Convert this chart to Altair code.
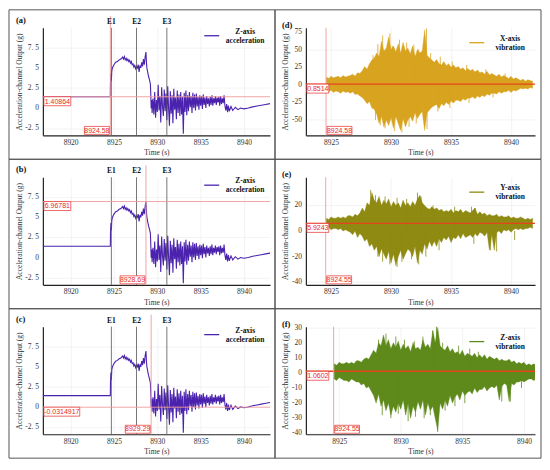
import altair as alt
import pandas as pd

# ---------------- data ----------------
# Z-axis acceleration (panels a, b, c)
z_time = [8916.8, 8924.58, 8924.6, 8924.65, 8924.7, 8924.75, 8924.8, 8924.9, 8925.0, 8925.2,
          8925.4, 8925.6, 8925.8, 8926.0, 8926.1, 8926.2, 8926.3, 8926.4, 8926.5, 8926.6,
          8926.7, 8926.8, 8926.9, 8927.0, 8927.1, 8927.2, 8927.3, 8927.4, 8927.5, 8927.6,
          8927.7, 8927.8, 8927.9, 8928.0, 8928.1, 8928.2, 8928.3, 8928.4, 8928.5, 8928.6,
          8928.69, 8928.75, 8928.8, 8928.9, 8929.0, 8929.1, 8929.2, 8929.25, 8929.29, 8929.35,
          8929.4, 8929.5, 8929.6, 8929.7, 8929.8, 8929.9, 8930.0, 8930.1, 8930.2, 8930.3,
          8930.4, 8930.5, 8930.6, 8930.7, 8930.8, 8930.9, 8931.0, 8931.1, 8931.2, 8931.3,
          8931.4, 8931.5, 8931.6, 8931.7, 8931.8, 8931.9, 8932.0, 8932.1, 8932.2, 8932.3,
          8932.4, 8932.5, 8932.6, 8932.7, 8932.8, 8932.9, 8933.0, 8933.1, 8933.2, 8933.3,
          8933.4, 8933.5, 8933.6, 8933.7, 8933.8, 8933.9, 8934.0, 8934.1, 8934.2, 8934.3,
          8934.4, 8934.5, 8934.6, 8934.7, 8934.8, 8934.9, 8935.0, 8935.1, 8935.2, 8935.3,
          8935.4, 8935.5, 8935.6, 8935.7, 8935.8, 8935.9, 8936.0, 8936.1, 8936.2, 8936.3,
          8936.4, 8936.5, 8936.6, 8936.7, 8936.8, 8936.9, 8937.0, 8937.1, 8937.2, 8937.3,
          8937.4, 8937.5, 8937.6, 8937.7, 8937.8, 8937.9, 8938.0, 8938.1, 8938.2, 8938.3,
          8938.5, 8938.7, 8939.0, 8939.3, 8939.6, 8940.0, 8940.5, 8941.0, 8941.5, 8942.0,
          8942.5, 8943.0]
z_value = [1.41, 1.41, 3.1, 4.3, 3.4, 4.6, 4.9, 5.2, 5.4, 5.7,
           5.8, 6.0, 6.1, 6.35, 6.1, 6.4, 6.0, 6.2, 5.9, 6.1,
           5.8, 5.95, 5.6, 5.8, 5.4, 5.5, 5.1, 5.3, 4.9, 5.2,
           5.0, 5.4, 4.5, 5.3, 5.0, 5.7, 5.2, 6.1, 5.4, 6.4,
           6.97, 5.6, 5.0, 4.4, 3.9, 3.5, 3.0, 1.6, -0.03, 1.0,
           -0.6, 1.2, -0.8, 2.0, -1.2, 1.0, -0.5, 2.9, -0.3, 1.5,
           -1.8, 2.6, 0.2, -1.0, 2.3, -0.4, 1.8, -1.5, 2.7, 0.0,
           -2.2, 2.1, -0.7, 1.6, -1.9, 2.4, -0.2, 1.3, -1.4, 2.2,
           -0.6, 1.7, -1.0, 2.0, -0.8, 1.4, -3.2, 1.9, -0.5, 2.2,
           -0.9, 1.6, -0.4, 2.0, 0.1, 1.5, -0.6, 1.9, 0.0, 1.7,
           -0.3, 1.8, 0.2, 1.4, -0.2, 1.6, 0.3, 1.5, -0.1, 1.7,
           0.4, 1.3, 0.0, 1.5, 0.5, 1.2, 0.2, 1.4, 0.4, 1.6,
           0.3, 1.2, 0.6, 1.5, 0.4, 1.3, 0.7, 1.4, 0.3, 1.5,
           0.5, 1.2, 0.6, 1.6, 0.3, -0.3, 0.5, -0.5, 0.3, -0.4,
           0.2, -0.3, 0.1, -0.2, 0.0, -0.1, 0.0, 0.15, 0.25, 0.35,
           0.45, 0.55]

event_time = [8924.7, 8927.6, 8931.1]
event_label = ["E1", "E2", "E3"]

# y tick values and their printed labels
acc_ticks = [-2.5, 0, 2.5, 5, 7.5]
acc_tick_labels = ["-2. 5", "0", "2. 5", "5", "7. 5"]
x_ticks = [-50, -25, 0, 25, 50, 75]
y_ticks = [-40, -20, 0, 20]
zv_ticks = [-40, -30, -20, -10, 0, 10, 20, 30]

# vibration envelopes (panels d, e, f): upper / lower peaks per time step
vib_time = [8924.6, 8924.8, 8925.0, 8925.2, 8925.4, 8925.6, 8925.8, 8926.0, 8926.2, 8926.4,
            8926.6, 8926.8, 8927.0, 8927.2, 8927.4, 8927.6, 8927.8, 8928.0, 8928.2, 8928.4,
            8928.6, 8928.8, 8929.0, 8929.2, 8929.4, 8929.6, 8929.8, 8930.0, 8930.2, 8930.4,
            8930.6, 8930.8, 8931.0, 8931.2, 8931.4, 8931.6, 8931.8, 8932.0, 8932.2, 8932.4,
            8932.6, 8932.8, 8933.0, 8933.2, 8933.4, 8933.6, 8933.8, 8934.0, 8934.2, 8934.4,
            8934.6, 8934.8, 8935.0, 8935.2, 8935.4, 8935.6, 8935.8, 8936.0, 8936.2, 8936.4,
            8936.6, 8936.8, 8937.0, 8937.2, 8937.4, 8937.6, 8937.8, 8938.0, 8938.2, 8938.4,
            8938.6, 8938.8, 8939.0, 8939.2, 8939.4, 8939.6, 8939.8, 8940.0, 8940.2, 8940.4,
            8940.6, 8940.8, 8941.0, 8941.2, 8941.4, 8941.6, 8941.8]
x_hi = [11, 9, 12, 10, 11, 12, 10, 13, 11, 12, 13, 15, 12, 17, 16, 20, 26, 22, 30, 35,
        38, 45, 40, 62, 48, 52, 68, 50, 55, 47, 58, 45, 60, 48, 52, 44, 55, 40, 50, 45,
        48, 78, 42, 38, 35, 32, 36, 30, 28, 33, 27, 30, 25, 28, 24, 26, 22, 24, 20, 23,
        20, 22, 18, 21, 17, 18, 15, 19, 14, 16, 14, 12, 15, 11, 13, 11, 9, 12, 8, 10,
        8, 6, 8, 5, 7, 6, 5]
x_lo = [-9, -10, -8, -11, -9, -10, -12, -9, -11, -10, -12, -10, -14, -13, -16, -18, -22, -27, -24, -33,
        -35, -42, -55, -45, -60, -50, -58, -47, -62, -45, -55, -65, -48, -60, -50, -45, -52, -40, -48, -42,
        -38, -65, -40, -36, -32, -30, -28, -34, -27, -30, -25, -28, -23, -26, -22, -22, -24, -20, -22, -19,
        -19, -17, -20, -16, -18, -15, -17, -13, -15, -12, -12, -13, -10, -12, -10, -10, -8, -11, -8, -9,
        -7, -5, -6, -5, -6, -4, -5]
y_hi = [10, 9, 11, 10, 10, 11, 10, 11, 10, 12, 12, 11, 13, 12, 14, 18, 15, 22, 20, 30,
        24, 22, 27, 20, 24, 21, 25, 19, 23, 20, 22, 18, 24, 20, 22, 19, 23, 20, 25, 28,
        22, 20, 18, 17, 19, 17, 18, 16, 17, 15, 16, 15, 17, 14, 16, 15, 17, 14, 16, 15,
        14, 16, 18, 13, 15, 13, 14, 12, 13, 12, 12, 13, 11, 12, 11, 11, 12, 10, 11, 10,
        10, 11, 10, 9, 10, 9, 10]
y_lo = [2, 3, 1, 2, 2, 1, 2, 0, 1, 0, -1, -3, 0, -5, -2, -4, -8, -6, -12, -10,
        -15, -12, -20, -14, -18, -22, -16, -25, -18, -27, -20, -15, -22, -18, -14, -16, -20, -12, -25, -15,
        -18, -10, -14, -8, -12, -8, -12, -6, -9, -5, -7, -4, -9, -5, -6, -3, -6, -2, -5, -4,
        -3, -5, -2, -4, -1, -2, -4, -1, -15, -3, -15, -1, 0, -2, 1, 0, 1, -1, 1, 2,
        1, 2, 1, 2, 2, 3, 2]
zv_hi = [6, 5, 7, 6, 6, 7, 6, 7, 6, 8, 8, 7, 9, 10, 9, 12, 15, 13, 20, 18,
         25, 18, 22, 16, 20, 17, 21, 15, 19, 16, 18, 14, 20, 16, 17, 15, 22, 17, 19, 16,
         28, 20, 30, 18, 16, 15, 18, 14, 16, 13, 14, 12, 15, 11, 13, 12, 11, 13, 10, 12,
         10, 12, 9, 11, 10, 9, 10, 8, 9, 8, 8, 9, 7, 8, 6, 7, 6, 7, 5, 6,
         5, 6, 5, 4, 5, 4, 4]
zv_lo = [-4, -5, -3, -4, -5, -5, -6, -4, -5, -6, -6, -8, -7, -10, -9, -12, -15, -20, -14, -22,
         -18, -25, -20, -28, -22, -26, -20, -24, -18, -28, -20, -30, -22, -26, -19, -24, -18, -28, -20, -25,
         -22, -30, -38, -20, -24, -18, -22, -15, -20, -16, -14, -18, -12, -15, -13, -12, -14, -10, -13, -11,
         -11, -9, -12, -10, -9, -10, -8, -18, -9, -7, -8, -19, -7, -8, -6, -6, -5, -6, -5, -4,
         -4, -5, -4, -4, -3, -3, -3]

# isolated spikes visible beyond the dense band
x_spike_t = [8928.5, 8928.9, 8929.3, 8929.9, 8930.1, 8930.7, 8931.3, 8931.9, 8932.3, 8932.95,
             8933.3, 8934.1, 8935.1, 8936.3, 8937.9, 8939.5,
             8928.7, 8929.1, 8929.5, 8930.3, 8930.9, 8931.5, 8932.1, 8932.7, 8933.0, 8933.9,
             8934.9, 8936.5, 8938.5]
x_spike_v = [42, 58, 70, 73, 55, 64, 60, 57, 50, 80,
             45, 40, 33, 28, 22, 16,
             -50, -58, -62, -66, -68, -60, -55, -50, -63, -38,
             -33, -26, -18]
y_spike_t = [8928.3, 8928.7, 8929.5, 8930.5, 8931.3, 8932.2, 8932.5, 8933.5, 8935.3, 8936.7, 8937.0,
             8928.9, 8929.3, 8929.9, 8930.5, 8930.9, 8931.7, 8932.3, 8932.9, 8934.0, 8936.9,
             8938.3, 8938.8, 8940.3]
y_spike_v = [32, 28, 27, 26, 25, 30, 27, 20, 19, 19, 18,
             -20, -24, -26, -28, -24, -22, -26, -20, -15, -10,
             -15, -16, -7]
z_spike_t = [8928.2, 8928.8, 8929.6, 8930.3, 8931.1, 8931.8, 8932.6, 8932.9, 8933.4, 8934.7,
             8935.6, 8936.3,
             8928.5, 8929.2, 8929.8, 8930.6, 8931.2, 8931.9, 8932.4, 8933.0, 8933.6, 8934.4,
             8935.2, 8938.2, 8938.9, 8939.8]
z_spike_v = [22, 26, 24, 22, 21, 24, 28, 31, 20, 18,
             16, 14,
             -28, -30, -27, -32, -29, -30, -28, -39, -25, -22,
             -20, -19, -19, -10]

# ---------------- style ----------------
PURPLE = "#4a22ad"
GOLD = "#d8a31f"
OLIVE = "#8f8a12"
GREEN = "#5e8a1b"
RED = "#e52b2b"
LRED = "#f09a9a"
HRED = "#e6451c"
SERIF = "Liberation Serif"
SANS = "Liberation Sans"

one = pd.DataFrame({"k": [0]})
zdf = pd.DataFrame({"t": z_time, "v": z_value})
edf = pd.DataFrame({"t": event_time, "lab": event_label})


def ytick_layer(ticks, labels, fieldname, ys):
    df = pd.DataFrame({fieldname: ticks, "lab": labels})
    return alt.Chart(df).mark_text(font=SERIF, fontSize=7.5, color="#333", align="right",
                                   baseline="middle").encode(
        x=alt.value(-4), y=alt.Y(f"{fieldname}:Q", scale=ys), text="lab:N")


def deco_layers(W, H, letter, letter_y, legend_lines, legend_color, leg_y, box):
    bx0, bx1, by0, by1 = box
    layers = []
    layers.append(alt.Chart(one).mark_rect(fillOpacity=0, stroke="#555", strokeWidth=1).encode(
        x=alt.value(bx0), x2=alt.value(bx1), y=alt.value(by0), y2=alt.value(by1)))
    layers.append(alt.Chart(one).mark_text(font=SERIF, fontSize=8.5, fontWeight="bold",
                                           align="left", color="#111").encode(
        x=alt.value(bx0 + 7), y=alt.value(letter_y), text=alt.value(letter)))
    layers.append(alt.Chart(one).mark_rule(color=legend_color, strokeWidth=1.3).encode(
        x=alt.value(W - 66), x2=alt.value(W - 51), y=alt.value(leg_y)))
    layers.append(alt.Chart(one).mark_text(font=SERIF, fontSize=7.5, fontWeight="bold",
                                           align="center", color="#111").encode(
        x=alt.value(W - 25), y=alt.value(leg_y - 4), text=alt.value(legend_lines[0])))
    layers.append(alt.Chart(one).mark_text(font=SERIF, fontSize=7.5, fontWeight="bold",
                                           align="center", color="#111").encode(
        x=alt.value(W - 25), y=alt.value(leg_y + 5), text=alt.value(legend_lines[1])))
    return layers


def red_marks(hval, htext, hbox_w, hcolor, hwidth, vval, vtext, vbox_w, vside, H, vtop):
    layers = []
    layers.append(alt.Chart(one).mark_rule(color=hcolor, strokeWidth=hwidth).encode(
        y=alt.datum(hval)))
    layers.append(alt.Chart(one).mark_rule(color=LRED, strokeWidth=0.9).encode(
        x=alt.datum(vval), y=alt.value(vtop), y2=alt.value(H)))
    layers.append(alt.Chart(one).mark_rect(fill="white", stroke=RED, strokeWidth=0.7,
                                           y2Offset=9).encode(
        x=alt.value(1), x2=alt.value(1 + hbox_w), y=alt.datum(hval), y2=alt.datum(hval)))
    layers.append(alt.Chart(one).mark_text(font=SANS, fontSize=7, color=RED, dy=4.8,
                                           baseline="middle").encode(
        x=alt.value(1 + hbox_w / 2), y=alt.datum(hval), text=alt.value(htext)))
    if vside < 0:
        xo, x2o = -vbox_w - 1, -1
    else:
        xo, x2o = 1, vbox_w + 1
    layers.append(alt.Chart(one).mark_rect(fill="white", stroke=RED, strokeWidth=0.7,
                                           xOffset=xo, x2Offset=x2o).encode(
        x=alt.datum(vval), x2=alt.datum(vval), y=alt.value(H - 9), y2=alt.value(H - 1)))
    layers.append(alt.Chart(one).mark_text(font=SANS, fontSize=7, color=RED,
                                           dx=(xo + x2o) / 2, baseline="middle").encode(
        x=alt.datum(vval), y=alt.value(H - 4.8), text=alt.value(vtext)))
    return layers


def acc_panel(letter, hval, htext, hbox_w, vval, vtext, vbox_w):
    W, H = 228, 108
    xs = alt.Scale(domain=[8916.8, 8943], nice=False, zero=False)
    ys = alt.Scale(domain=[-3.4, 10], nice=False, zero=False)
    base = alt.Chart(zdf).mark_line(color=PURPLE, strokeWidth=1.1).encode(
        x=alt.X("t:Q", scale=xs, axis=alt.Axis(values=[8920, 8925, 8930, 8935, 8940],
                                                format="d", title="Time (s)")),
        y=alt.Y("v:Q", scale=ys, axis=alt.Axis(
            values=acc_ticks, labels=False, titlePadding=19,
            title="Acceleration-channel Output (g)")))
    erule = alt.Chart(edf).mark_rule(color="#555", strokeWidth=0.8).encode(
        x=alt.X("t:Q", scale=xs), y=alt.value(0), y2=alt.value(H))
    etext = alt.Chart(edf).mark_text(font=SERIF, fontSize=7.5, fontWeight="bold",
                                     color="#111").encode(
        x=alt.X("t:Q", scale=xs), y=alt.value(-6), text="lab:N")
    layers = deco_layers(W, H, letter, -8, ["Z-axis", "acceleration"], PURPLE, 8,
                         (-34, W + 5, -18, H + 24))
    layers = [layers[0], base, erule] + red_marks(hval, htext, hbox_w, LRED, 0.9, vval, vtext,
                                                  vbox_w, -1, H, -12) + \
        [etext, ytick_layer(acc_ticks, acc_tick_labels, "v", ys)] + layers[1:]
    return alt.layer(*layers).properties(width=W, height=H)


def vib_panel(letter, hi, lo, st, sv, color, ydom, yvals, xdom, hval, htext, hbox_w, vval,
              vtext, vbox_w, name):
    W, H = 230, 108
    xs = alt.Scale(domain=xdom, nice=False, zero=False)
    ys = alt.Scale(domain=ydom, nice=False, zero=False)
    df = pd.DataFrame({"t": vib_time, "hi": hi, "lo": lo})
    sdf = pd.DataFrame({"t": st, "hi": sv})
    base = alt.Chart(df).mark_area(color=color, clip=True, opacity=1, strokeWidth=0.4,
                                   stroke=color).encode(
        x=alt.X("t:Q", scale=xs, axis=alt.Axis(values=[8925, 8930, 8935, 8940],
                                                format="d", title="Time (s)")),
        y=alt.Y("hi:Q", scale=ys, axis=alt.Axis(values=yvals, labels=False, titlePadding=16,
                                                 title="Acceleration-channel Output (g)")),
        y2="lo:Q")
    spikes = alt.Chart(sdf).mark_rule(color=color, strokeWidth=0.8, clip=True).encode(
        x=alt.X("t:Q", scale=xs), y=alt.Y("hi:Q", scale=ys), y2=alt.datum(0))
    layers = deco_layers(W, H, letter, -3, [name, "vibration"], color, 15,
                         (-31, W + 6, -18, H + 24))
    reds = red_marks(hval, htext, hbox_w, HRED, 1.4, vval, vtext, vbox_w, 1, H, 0)
    ticks = ytick_layer(yvals, [str(v) for v in yvals], "hi", ys)
    layers = [layers[0], base, spikes] + reds + [ticks] + layers[1:]
    return alt.layer(*layers).properties(width=W, height=H)


pa = acc_panel("(a)", 1.40864, "1.40864", 27, 8924.58, "8924.58", 25)
pb = acc_panel("(b)", 6.96781, "6.96781", 27, 8928.69, "8928.69", 25)
pc = acc_panel("(c)", -0.0314917, "-0.0314917", 36, 8929.29, "8929.29", 25)
pd_ = vib_panel("(d)", x_hi, x_lo, x_spike_t, x_spike_v, GOLD, [-72, 81], x_ticks,
                [8922.9, 8942], 0.8514, "0.8514", 22, 8924.58, "8924.58", 25, "X-axis")
pe = vib_panel("(e)", y_hi, y_lo, y_spike_t, y_spike_v, OLIVE, [-42, 42], y_ticks,
               [8922.9, 8942], 5.9243, "5.9243", 22, 8924.55, "8924.55", 25, "Y-axis")
pf = vib_panel("(f)", zv_hi, zv_lo, z_spike_t, z_spike_v, GREEN, [-40.6, 30.6], zv_ticks,
               [8922.3, 8940.9], 1.0602, "1.0602", 22, 8924.55, "8924.55", 25, "Z-axis")

chart = alt.concat(pa, pd_, pb, pe, pc, pf, columns=2,
                   spacing={"row": 42, "column": 36}, bounds="flush").properties(
    padding=0
).configure_view(stroke=None).configure_axis(
    domainColor="#222", domainWidth=1.2, ticks=False, labelFont=SERIF, labelFontSize=7.5,
    labelColor="#333", titleFont=SERIF, titleFontSize=7.5, titleFontWeight="normal",
    titleColor="#333", gridColor="#ededed", gridWidth=0.7, labelPadding=3, titlePadding=3
)

chart.save("out.html", embed_options={"renderer": "svg", "actions": False})
